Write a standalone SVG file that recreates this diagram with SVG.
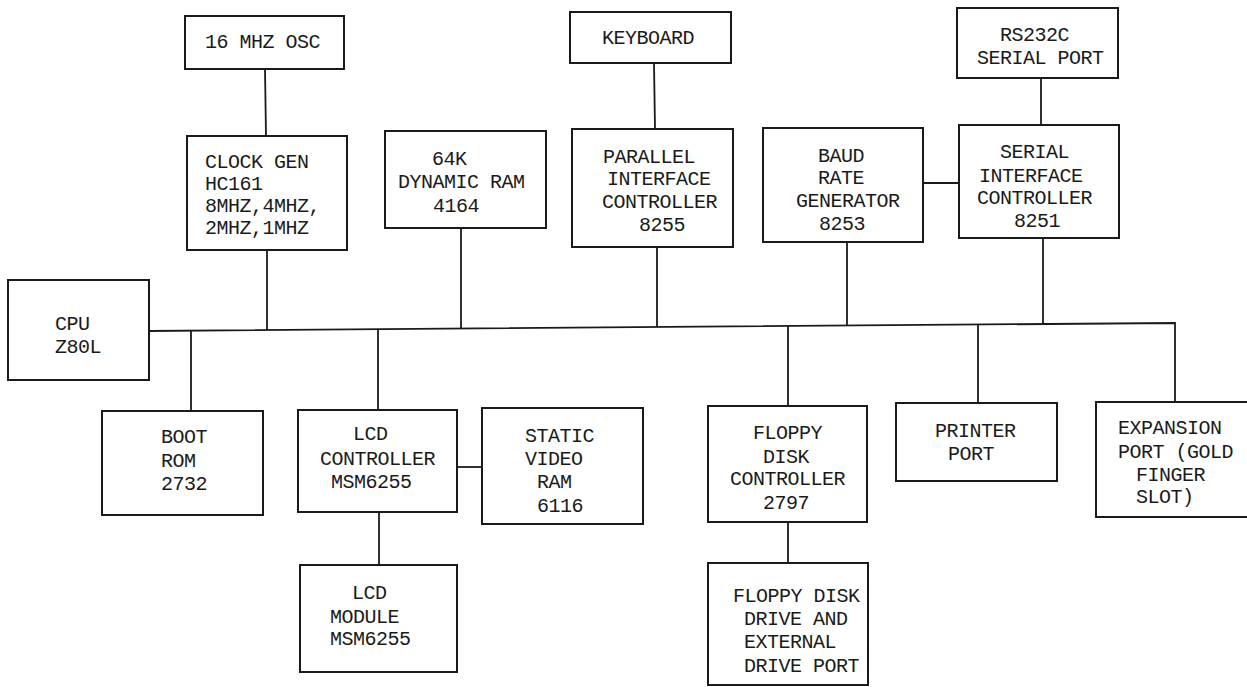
<svg xmlns="http://www.w3.org/2000/svg" width="1247" height="687" viewBox="0 0 1247 687">
<style>
.box{fill:#fff;stroke:#1a1a1a;stroke-width:2}
.ln{fill:none;stroke:#1a1a1a;stroke-width:1.8}
text{font-family:"Liberation Mono","Courier New",monospace;font-size:20px;letter-spacing:-0.5px;fill:#1a1a1a}
</style>
<rect width="1247" height="687" fill="#fff"/>
<g id="connectors">
<polyline class="ln" points="149,331 1175,323 1175,402"/>
<line class="ln" x1="265" y1="69" x2="266" y2="136"/>
<line class="ln" x1="267" y1="250" x2="267" y2="330"/>
<line class="ln" x1="461" y1="228" x2="461" y2="328"/>
<line class="ln" x1="654" y1="63" x2="655" y2="129"/>
<line class="ln" x1="657" y1="247" x2="657" y2="327"/>
<line class="ln" x1="847" y1="242" x2="847" y2="325"/>
<line class="ln" x1="923" y1="183" x2="959" y2="183"/>
<line class="ln" x1="1041" y1="78" x2="1041" y2="125"/>
<line class="ln" x1="1043" y1="238" x2="1043" y2="324"/>
<line class="ln" x1="191" y1="330" x2="191" y2="411"/>
<line class="ln" x1="378" y1="329" x2="378" y2="410"/>
<line class="ln" x1="457" y1="467" x2="482" y2="467"/>
<line class="ln" x1="379" y1="512" x2="379" y2="565"/>
<line class="ln" x1="788" y1="326" x2="788" y2="406"/>
<line class="ln" x1="788" y1="522" x2="788" y2="563"/>
<line class="ln" x1="978" y1="324" x2="978" y2="403"/>
</g>
<g id="osc"><rect class="box" x="185" y="16" width="159" height="53"/><text x="205" y="48">16 MHZ OSC</text></g>
<g id="clockgen"><rect class="box" x="187" y="136" width="160" height="114"/>
<text x="205" y="168">CLOCK GEN</text><text x="205" y="190">HC161</text><text x="205" y="212">8MHZ,4MHZ,</text><text x="205" y="234">2MHZ,1MHZ</text></g>
<g id="dram"><rect class="box" x="385" y="131" width="161" height="97"/>
<text x="432" y="165">64K</text><text x="398" y="188">DYNAMIC RAM</text><text x="433" y="212">4164</text></g>
<g id="keyboard"><rect class="box" x="570" y="12" width="161" height="51"/><text x="602" y="44">KEYBOARD</text></g>
<g id="parallel"><rect class="box" x="572" y="129" width="161" height="118"/>
<text x="603" y="163">PARALLEL</text><text x="607" y="185">INTERFACE</text><text x="602" y="208">CONTROLLER</text><text x="639" y="231">8255</text></g>
<g id="baud"><rect class="box" x="763" y="128" width="160" height="114"/>
<text x="818" y="162">BAUD</text><text x="818" y="184">RATE</text><text x="796" y="207">GENERATOR</text><text x="819" y="230">8253</text></g>
<g id="rs232"><rect class="box" x="957" y="8" width="161" height="70"/>
<text x="1000" y="41">RS232C</text><text x="977" y="64">SERIAL PORT</text></g>
<g id="serial"><rect class="box" x="959" y="125" width="160" height="113"/>
<text x="1000" y="158">SERIAL</text><text x="979" y="182">INTERFACE</text><text x="977" y="204">CONTROLLER</text><text x="1014" y="227">8251</text></g>
<g id="cpu"><rect class="box" x="8" y="280" width="141" height="100"/>
<text x="55" y="330">CPU</text><text x="55" y="353">Z80L</text></g>
<g id="bootrom"><rect class="box" x="102" y="411" width="161" height="104"/>
<text x="161" y="443">BOOT</text><text x="161" y="467">ROM</text><text x="161" y="490">2732</text></g>
<g id="lcdctrl"><rect class="box" x="298" y="410" width="159" height="102"/>
<text x="353" y="440">LCD</text><text x="320" y="465">CONTROLLER</text><text x="331" y="488">MSM6255</text></g>
<g id="svram"><rect class="box" x="482" y="408" width="161" height="116"/>
<text x="525" y="442">STATIC</text><text x="525" y="465">VIDEO</text><text x="537" y="488">RAM</text><text x="537" y="512">6116</text></g>
<g id="lcdmodule"><rect class="box" x="300" y="565" width="157" height="107"/>
<text x="352" y="599">LCD</text><text x="330" y="623">MODULE</text><text x="330" y="645">MSM6255</text></g>
<g id="fdc"><rect class="box" x="708" y="406" width="159" height="116"/>
<text x="753" y="439">FLOPPY</text><text x="763" y="463">DISK</text><text x="730" y="485">CONTROLLER</text><text x="763" y="509">2797</text></g>
<g id="fdd"><rect class="box" x="708" y="563" width="160" height="122"/>
<text x="733" y="602">FLOPPY DISK</text><text x="744" y="625">DRIVE AND</text><text x="744" y="648">EXTERNAL</text><text x="744" y="672">DRIVE PORT</text></g>
<g id="printer"><rect class="box" x="896" y="403" width="161" height="78"/>
<text x="935" y="437">PRINTER</text><text x="948" y="460">PORT</text></g>
<g id="expansion"><rect class="box" x="1096" y="402" width="153" height="115"/>
<text x="1118" y="434">EXPANSION</text><text x="1118" y="458">PORT (GOLD</text><text x="1136" y="481">FINGER</text><text x="1136" y="503">SLOT)</text></g>
</svg>
